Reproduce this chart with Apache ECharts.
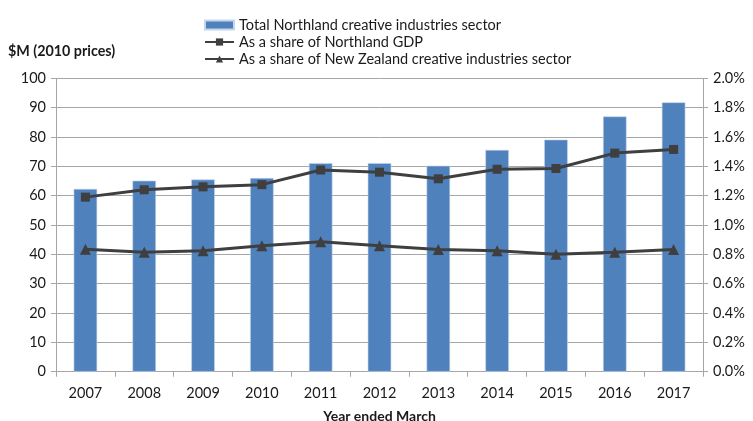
<!DOCTYPE html>
<html>
<head>
<meta charset="utf-8">
<script src="https://cdn.jsdelivr.net/npm/echarts@6/dist/echarts.min.js"></script>
<style>
  html, body { margin: 0; padding: 0; background: #fff; }
  #chart { width: 753px; height: 421px; }
</style>
</head>
<body>
<div id="chart"></div>
<script>
// Year ended March
const years = ['2007', '2008', '2009', '2010', '2011', '2012', '2013', '2014', '2015', '2016', '2017'];
// Total Northland creative industries sector, $M (2010 prices)
const sectorTotal = [62.3, 65.1, 65.5, 66.0, 71.1, 71.1, 70.2, 75.6, 79.1, 87.0, 91.8];
// Share of Northland GDP, %
const shareNorthlandGdp = [1.19, 1.24, 1.26, 1.275, 1.375, 1.36, 1.315, 1.38, 1.385, 1.49, 1.515];
// Share of New Zealand creative industries sector, %
const shareNzSector = [0.835, 0.815, 0.824, 0.858, 0.885, 0.858, 0.833, 0.824, 0.801, 0.815, 0.833];
// Axis tick values
const leftTicks = [0, 10, 20, 30, 40, 50, 60, 70, 80, 90, 100];
const rightTicks = [0, 0.2, 0.4, 0.6, 0.8, 1.0, 1.2, 1.4, 1.6, 1.8, 2.0];

const FONT = 'Lato, "Open Sans", sans-serif';
const FS = 14.5;
const TEXT = '#1a1a1a';
const GRID = '#a6a6a6';
const LINE = '#3f3f3f';

const chart = echarts.init(document.getElementById('chart'));
chart.setOption({
  animation: false,
  textStyle: { fontFamily: FONT, color: TEXT },
  legend: {
    orient: 'vertical',
    left: 199,
    top: 12.5,
    itemWidth: 29,
    itemHeight: 9,
    itemGap: 2,
    textStyle: { fontFamily: FONT, fontSize: FS, color: TEXT, lineHeight: 15 },
    data: [
      { name: 'Total Northland creative industries sector', icon: 'rect' },
      'As a share of Northland GDP',
      'As a share of New Zealand creative industries sector'
    ]
  },
  grid: { left: 56, right: 50, top: 78.3, bottom: 49.3, outerBoundsMode: 'none', containLabel: false },
  xAxis: {
    type: 'category',
    data: years,
    name: 'Year ended March',
    nameLocation: 'middle',
    nameGap: 38,
    nameTextStyle: { fontFamily: FONT, fontSize: 14, fontWeight: 'bold', color: TEXT },
    axisLine: { lineStyle: { color: GRID, width: 1 } },
    axisTick: { show: true, length: 5, lineStyle: { color: GRID } },
    axisLabel: { fontFamily: FONT, fontSize: FS, color: TEXT, margin: 14 }
  },
  yAxis: [
    {
      type: 'value',
      min: leftTicks[0],
      max: leftTicks[leftTicks.length - 1],
      interval: 10,
      name: '$M (2010 prices)',
      nameLocation: 'end',
      nameGap: 20,
      nameTextStyle: { fontFamily: FONT, fontSize: 14.3, fontWeight: 'bold', color: TEXT, align: 'left', padding: [0, 0, 0, -48] },
      axisLine: { show: true, lineStyle: { color: GRID } },
      axisTick: { show: true, length: 5, lineStyle: { color: GRID } },
      axisLabel: { fontFamily: FONT, fontSize: FS, color: TEXT, margin: 10 },
      splitLine: { show: true, lineStyle: { color: GRID, width: 1 } }
    },
    {
      type: 'value',
      min: rightTicks[0],
      max: rightTicks[rightTicks.length - 1],
      interval: 0.2,
      position: 'right',
      axisLine: { show: true, lineStyle: { color: GRID } },
      axisTick: { show: true, length: 5, lineStyle: { color: GRID } },
      axisLabel: {
        fontFamily: FONT, fontSize: FS, color: TEXT, margin: 10,
        formatter: v => v.toFixed(1) + '%'
      },
      splitLine: { show: false }
    }
  ],
  series: [
    {
      name: 'Total Northland creative industries sector',
      type: 'bar',
      data: sectorTotal,
      yAxisIndex: 0,
      barWidth: '40%',
      itemStyle: { color: '#4f81bd', borderColor: '#c5d5ea', borderWidth: 0.6 }
    },
    {
      name: 'As a share of Northland GDP',
      type: 'line',
      data: shareNorthlandGdp,
      yAxisIndex: 1,
      symbol: 'rect',
      symbolSize: 9,
      lineStyle: { color: LINE, width: 3 },
      itemStyle: { color: LINE }
    },
    {
      name: 'As a share of New Zealand creative industries sector',
      type: 'line',
      data: shareNzSector,
      yAxisIndex: 1,
      symbol: 'triangle',
      symbolSize: 11,
      lineStyle: { color: LINE, width: 3 },
      itemStyle: { color: LINE }
    }
  ]
});
</script>
</body>
</html>
